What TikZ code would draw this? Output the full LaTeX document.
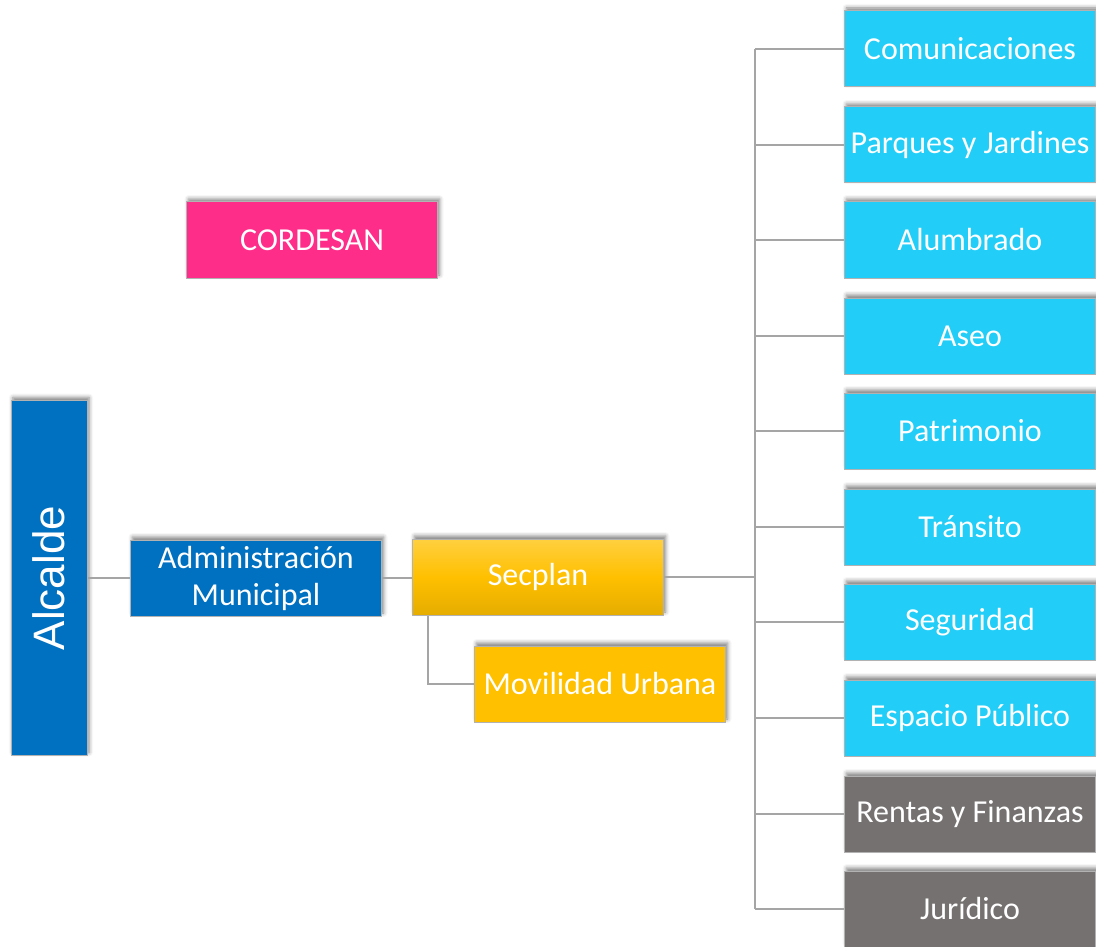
\documentclass[tikz,border=0pt]{standalone}
\usepackage{fontspec}
\setmainfont{Carlito}
\newfontfamily\alcaldefont{Liberation Sans}
\usepackage{tikz}
\usetikzlibrary{positioning, shadows.blur}

\definecolor{azul}{HTML}{0070C0}
\definecolor{celeste}{HTML}{22CEF7}
\definecolor{gris}{HTML}{767171}
\definecolor{rosa}{HTML}{FF2D8A}
\definecolor{amarillo}{HTML}{FFC000}
\definecolor{linea}{HTML}{A5A5A5}

\tikzset{
	box/.style={rectangle, draw=gray!60, line width=1pt, text=white, inner sep=0pt,
		minimum width=251pt, minimum height=76pt, align=center,
		font=\fontsize{32}{37}\selectfont,
		blur shadow={shadow xshift=2pt, shadow yshift=3pt, shadow blur radius=4pt, shadow opacity=50}}, % every box of the chart
	unidad/.style={box, fill=celeste}, % the departments on the right
	apoyo/.style={box, fill=gris},
	conector/.style={draw=linea, line width=1.5pt}, % plain lines, no tips
}

\begin{document}
\begin{tikzpicture}[x=1pt, y=-1pt]
	\useasboundingbox (0,0) rectangle (1096,947);

	% left part
	\node (alcalde) at (49,578) [box, fill=azul, minimum width=355pt, minimum height=76pt, rotate=90,
		font=\alcaldefont\fontsize{44}{48}\selectfont] {Alcalde};
	\node (admin) at (256,578) [box, fill=azul] {Administración\\Municipal};
	\node (secplan) at (538,577) [box, top color=amarillo!75!white, bottom color=amarillo!90!black,
		middle color=amarillo] {Secplan};
	\node (movilidad) at (600,684) [box, fill=amarillo] {Movilidad Urbana};
	\node (cordesan) at (312,240) [box, fill=rosa] {CORDESAN};

	% right column
	\node (com) at (970,49) [unidad] {Comunicaciones};
	\node (parques) at (970,145) [unidad] {Parques y Jardines};
	\node (alum) at (970,240) [unidad] {Alumbrado};
	\node (aseo) at (970,336) [unidad] {Aseo};
	\node (patri) at (970,431) [unidad] {Patrimonio};
	\node (transito) at (970,527) [unidad] {Tránsito};
	\node (seg) at (970,622) [unidad] {Seguridad};
	\node (espacio) at (970,718) [unidad] {Espacio Público};
	\node (rentas) at (970,814) [apoyo] {Rentas y Finanzas};
	\node (juridico) at (970,909) [apoyo] {Jurídico};

	\coordinate (trunk) at (755,577);

	% lines
	\draw[conector] (alcalde.south) -- (admin.west);
	\draw[conector] (admin.east) -- (admin.east -| secplan.west);
	\draw[conector] (secplan.east) -- (trunk);
	\draw[conector] ([xshift=16pt]secplan.south west) |- (movilidad.west);
	\draw[conector] (trunk |- com) -- (trunk |- juridico);
	\draw[conector] (trunk |- com) -- (com.west);
	\draw[conector] (trunk |- parques) -- (parques.west);
	\draw[conector] (trunk |- alum) -- (alum.west);
	\draw[conector] (trunk |- aseo) -- (aseo.west);
	\draw[conector] (trunk |- patri) -- (patri.west);
	\draw[conector] (trunk |- transito) -- (transito.west);
	\draw[conector] (trunk |- seg) -- (seg.west);
	\draw[conector] (trunk |- espacio) -- (espacio.west);
	\draw[conector] (trunk |- rentas) -- (rentas.west);
	\draw[conector] (trunk |- juridico) -- (juridico.west);
\end{tikzpicture}
\end{document}
